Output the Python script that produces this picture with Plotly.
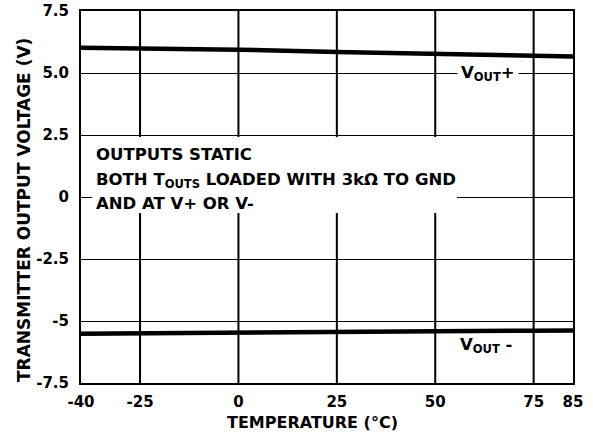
import plotly.graph_objects as go

temps = [-40, -25, 0, 25, 50, 75, 85]
vout_pos = [6.02, 6.00, 5.94, 5.85, 5.77, 5.70, 5.67]
vout_neg = [-5.51, -5.50, -5.48, -5.46, -5.43, -5.39, -5.38]

x_ticks = [-40, -25, 0, 25, 50, 75, 85]
x_ticktext = ["-40", "-25", "0", "25", "50", "75", "85"]
y_ticks = [7.5, 5.0, 2.5, 0, -2.5, -5, -7.5]
y_ticktext = ["7.5", "5.0", "2.5", "0", "-2.5", "-5", "-7.5"]

FONT = "DejaVu Sans"

fig = go.Figure()
for vals in (vout_pos, vout_neg):
    fig.add_trace(go.Scatter(x=temps, y=vals, mode="lines",
                             line=dict(color="black", width=4.5),
                             showlegend=False, hoverinfo="skip"))

fig.update_layout(
    width=593, height=435,
    margin=dict(l=81, r=20, t=11, b=52, autoexpand=False),
    paper_bgcolor="white", plot_bgcolor="white",
    font=dict(family=FONT, color="black"),
    xaxis=dict(range=[-40, 85], tickvals=x_ticks, ticktext=x_ticktext,
               showgrid=False, zeroline=False, automargin=False,
               showline=True, mirror=True, linecolor="black", linewidth=2,
               ticks="", ticklabelstandoff=4,
               tickfont=dict(family=FONT, size=15, weight="bold")),
    yaxis=dict(range=[-7.5, 7.5], tickvals=y_ticks, ticktext=y_ticktext,
               showgrid=True, gridcolor="black", gridwidth=1, zeroline=False,
               automargin=False,
               showline=True, mirror=True, linecolor="black", linewidth=2,
               ticks="", ticklabelstandoff=7,
               tickfont=dict(family=FONT, size=15, weight="bold")),
)

# vertical grid lines (thicker) at interior x ticks
for xv in [-25, 0, 25, 50, 75]:
    fig.add_shape(type="line", xref="x", yref="paper", x0=xv, x1=xv, y0=0, y1=1,
                  line=dict(color="black", width=2), layer="below")

# white box behind the note text
fig.add_shape(type="rect", xref="x", yref="y", x0=-37.2, x1=55.5, y0=-0.65, y1=2.42,
              fillcolor="white", line=dict(width=0), layer="above")

note_font = dict(family=FONT, size=16.5, color="black", weight="bold")
fig.add_annotation(x=-36.6, y=1.73, xref="x", yref="y", xanchor="left", yanchor="middle",
                   text="OUTPUTS STATIC", showarrow=False, font=note_font)
fig.add_annotation(x=-36.6, y=0.68, xref="x", yref="y", xanchor="left", yanchor="middle",
                   text="BOTH T<sub>OUTS</sub> LOADED WITH 3kΩ TO GND", showarrow=False, font=note_font)
fig.add_annotation(x=-36.6, y=-0.26, xref="x", yref="y", xanchor="left", yanchor="middle",
                   text="AND AT V+ OR V-", showarrow=False, font=note_font)

fig.add_annotation(x=63.4, y=5.0, xref="x", yref="y", xanchor="center", yanchor="middle",
                   text="V<sub>OUT</sub>+", showarrow=False, font=note_font,
                   bgcolor="white", borderpad=3)
fig.add_annotation(x=62.8, y=-6.0, xref="x", yref="y", xanchor="center", yanchor="middle",
                   text="V<sub>OUT</sub> -", showarrow=False, font=note_font)

pw = 593 - 81 - 20
ph = 435 - 11 - 52
fig.add_annotation(x=(312 - 81) / pw, y=1 - (423 - 11) / ph, xref="paper", yref="paper",
                   showarrow=False, xanchor="center", yanchor="middle",
                   text="TEMPERATURE (°C)",
                   font=dict(family=FONT, size=16, color="black", weight="bold"))
fig.add_annotation(x=(24 - 81) / pw, y=1 - (210 - 11) / ph, xref="paper", yref="paper",
                   showarrow=False, xanchor="center", yanchor="middle",
                   text="TRANSMITTER OUTPUT VOLTAGE (V)", textangle=-90,
                   font=dict(family=FONT, size=17, color="black", weight="bold"))

fig.write_html("out.html", config={"displayModeBar": False},
               post_script="document.body.style.margin='0';document.body.style.overflow='hidden';")
